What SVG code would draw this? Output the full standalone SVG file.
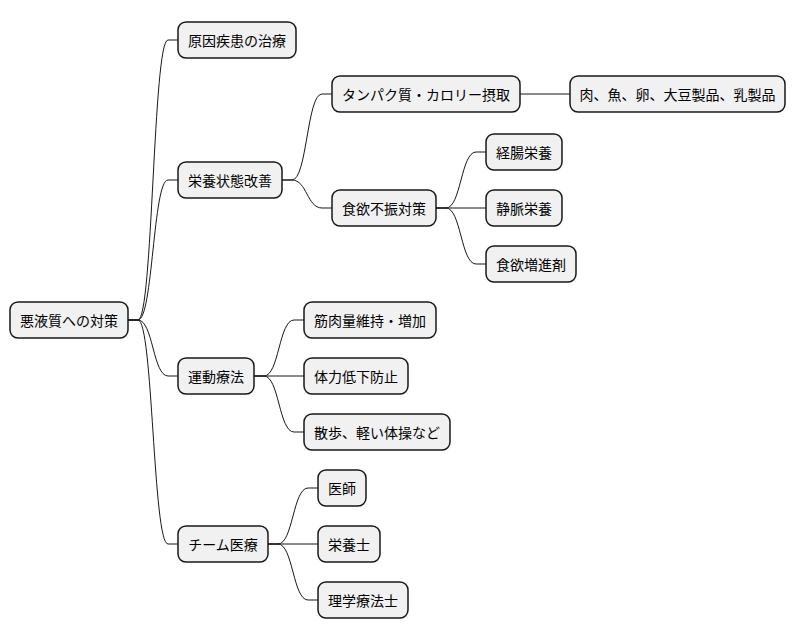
<svg xmlns="http://www.w3.org/2000/svg" width="796" height="640" viewBox="0 0 796 640">
<style>
.n rect{fill:#F1F1F1;stroke:#181818;stroke-width:1.5}
.n text{font-family:"Noto Sans CJK JP","Noto Sans CJK SC",sans-serif;font-size:14px;fill:#000;text-anchor:middle;dominant-baseline:central}
.c path{fill:none;stroke:#181818;stroke-width:1}
</style>
<rect width="796" height="640" fill="#fff"/>
<g class="c">
<path d="M128,320 L138,320 C153,320 153,40 168,40 L178,40"/>
<path d="M128,320 L138,320 C153,320 153,180 168,180 L178,180"/>
<path d="M128,320 L138,320 C153,320 153,376 168,376 L178,376"/>
<path d="M128,320 L138,320 C153,320 153,544 168,544 L178,544"/>
<path d="M282,180 L292,180 C307,180 307,94 322,94 L332,94"/>
<path d="M282,180 L292,180 C307,180 307,208 322,208 L332,208"/>
<path d="M520,94 L570,94"/>
<path d="M436,208 L446,208 C461,208 461,152 476,152 L486,152"/>
<path d="M436,208 L486,208"/>
<path d="M436,208 L446,208 C461,208 461,264 476,264 L486,264"/>
<path d="M254,376 L264,376 C279,376 279,320 294,320 L304,320"/>
<path d="M254,376 L304,376"/>
<path d="M254,376 L264,376 C279,376 279,432 294,432 L304,432"/>
<path d="M268,544 L278,544 C293,544 293,488 308,488 L318,488"/>
<path d="M268,544 L318,544"/>
<path d="M268,544 L278,544 C293,544 293,600 308,600 L318,600"/>
</g>
<g id="root" class="n"><rect x="10" y="302" width="118" height="36" rx="8"/><text x="69" y="320">悪液質への対策</text></g>
<g id="n1" class="n"><rect x="178" y="22" width="118" height="36" rx="8"/><text x="237" y="40">原因疾患の治療</text></g>
<g id="n2" class="n"><rect x="178" y="162" width="104" height="36" rx="8"/><text x="230" y="180">栄養状態改善</text></g>
<g id="n21" class="n"><rect x="332" y="76" width="188" height="36" rx="8"/><text x="426" y="94">タンパク質・カロリー摂取</text></g>
<g id="n211" class="n"><rect x="570" y="76" width="215" height="36" rx="8"/><text x="677.5" y="94">肉、魚、卵、大豆製品、乳製品</text></g>
<g id="n22" class="n"><rect x="332" y="190" width="104" height="36" rx="8"/><text x="384" y="208">食欲不振対策</text></g>
<g id="n221" class="n"><rect x="486" y="134" width="76" height="36" rx="8"/><text x="524" y="152">経腸栄養</text></g>
<g id="n222" class="n"><rect x="486" y="190" width="76" height="36" rx="8"/><text x="524" y="208">静脈栄養</text></g>
<g id="n223" class="n"><rect x="486" y="246" width="90" height="36" rx="8"/><text x="531" y="264">食欲増進剤</text></g>
<g id="n3" class="n"><rect x="178" y="358" width="76" height="36" rx="8"/><text x="216" y="376">運動療法</text></g>
<g id="n31" class="n"><rect x="304" y="302" width="132" height="36" rx="8"/><text x="370" y="320">筋肉量維持・増加</text></g>
<g id="n32" class="n"><rect x="304" y="358" width="104" height="36" rx="8"/><text x="356" y="376">体力低下防止</text></g>
<g id="n33" class="n"><rect x="304" y="414" width="146" height="36" rx="8"/><text x="377" y="432">散歩、軽い体操など</text></g>
<g id="n4" class="n"><rect x="178" y="526" width="90" height="36" rx="8"/><text x="223" y="544">チーム医療</text></g>
<g id="n41" class="n"><rect x="318" y="470" width="48" height="36" rx="8"/><text x="342" y="488">医師</text></g>
<g id="n42" class="n"><rect x="318" y="526" width="62" height="36" rx="8"/><text x="349" y="544">栄養士</text></g>
<g id="n43" class="n"><rect x="318" y="582" width="90" height="36" rx="8"/><text x="363" y="600">理学療法士</text></g>
</svg>
